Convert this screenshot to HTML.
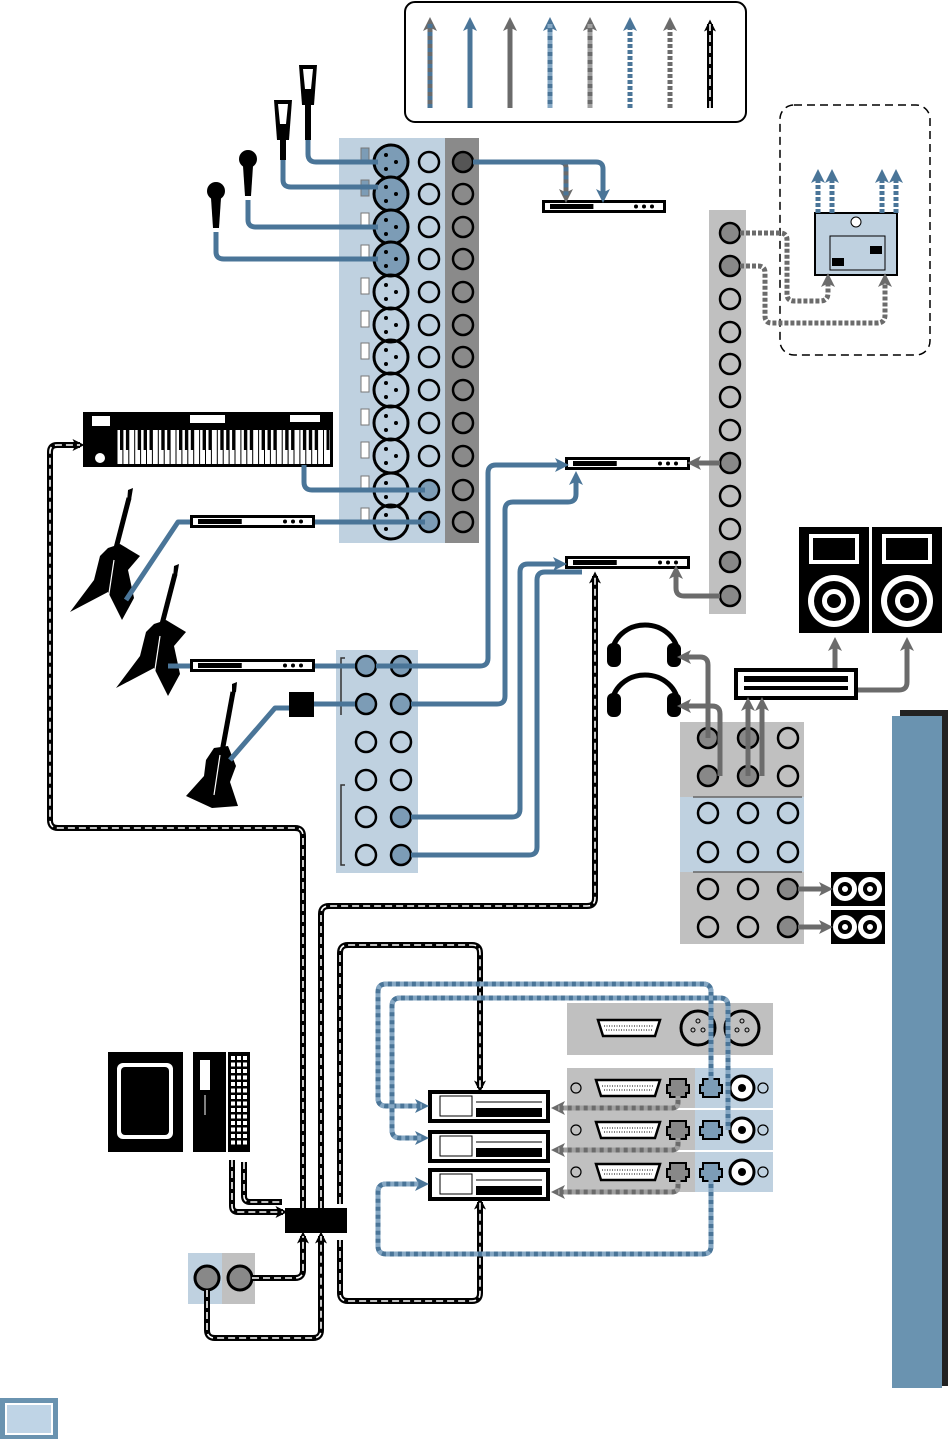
<!DOCTYPE html>
<html><head><meta charset="utf-8"><style>html,body{margin:0;padding:0;background:#fff}svg{display:block}</style></head>
<body>
<svg id="s" width="952" height="1439" viewBox="0 0 952 1439" xmlns="http://www.w3.org/2000/svg">
<defs>
<marker id="ab" markerWidth="14" markerHeight="14" viewBox="0 0 4 4" refX="2" refY="2" orient="auto" markerUnits="userSpaceOnUse"><path d="M0,0 L4,2 L0,4 L1,2z" fill="#4a7598"/></marker>
<marker id="ag" markerWidth="14" markerHeight="14" viewBox="0 0 4 4" refX="2" refY="2" orient="auto" markerUnits="userSpaceOnUse"><path d="M0,0 L4,2 L0,4 L1,2z" fill="#6b6b6b"/></marker>
<marker id="ak" markerWidth="12" markerHeight="12" viewBox="0 0 4 4" refX="2.5" refY="2" orient="auto" markerUnits="userSpaceOnUse"><path d="M0,0 L4,2 L0,4 L1,2z" fill="#000"/></marker>
</defs>
<rect x="405" y="2" width="341" height="120" rx="10" fill="#fff" stroke="#000" stroke-width="2"/>
<rect x="339" y="138" width="106" height="405" fill="#bfd1e0"/>
<rect x="445" y="138" width="34" height="405" fill="#8a8a8a"/>
<rect x="709" y="210" width="37" height="404" fill="#c0c0c0"/>
<rect x="336" y="650" width="82" height="223" fill="#bfd1e0"/>
<rect x="680" y="722" width="124" height="75" fill="#c0c0c0"/>
<rect x="680" y="797" width="124" height="75" fill="#bfd1e0"/>
<rect x="680" y="872" width="124" height="72" fill="#c0c0c0"/>
<line x1="693" y1="797" x2="802" y2="797" stroke="#666" stroke-width="1.5"/>
<line x1="693" y1="872" x2="802" y2="872" stroke="#666" stroke-width="1.5"/>
<rect x="780" y="105" width="150" height="250" rx="14" fill="none" stroke="#000" stroke-width="1.5" stroke-dasharray="8,5"/>
<rect x="900" y="710" width="48" height="676" fill="#222"/>
<rect x="892" y="716" width="50" height="672" fill="#6a93b0"/>
<rect x="0" y="1398" width="58" height="41" fill="#6a93b0"/>
<rect x="6" y="1404" width="46" height="30" fill="#bfd4e6" stroke="#fff" stroke-width="2"/>
<rect x="567" y="1003" width="206" height="52" fill="#c0c0c0"/>
<rect x="567" y="1068" width="128" height="40" fill="#c0c0c0"/><rect x="695" y="1068" width="78" height="40" fill="#bfd1e0"/>
<rect x="567" y="1110" width="128" height="40" fill="#c0c0c0"/><rect x="695" y="1110" width="78" height="40" fill="#bfd1e0"/>
<rect x="567" y="1152" width="128" height="40" fill="#c0c0c0"/><rect x="695" y="1152" width="78" height="40" fill="#bfd1e0"/>
<rect x="188" y="1253" width="34" height="51" fill="#bfd1e0"/><rect x="222" y="1253" width="33" height="51" fill="#c0c0c0"/>
<g id="g"></g>
</svg>
<script>
var g=document.getElementById('g');var NS='http://www.w3.org/2000/svg';
function el(t,a){var e=document.createElementNS(NS,t);for(var k in a)e.setAttribute(k,a[k]);g.appendChild(e);return e;}
var B='#4a7598',G='#6b6b6b',LB='#86a8c4',LG='#a0a0a0';
function line(d,type,arrow){
 var w=5;
 var base={d:d,fill:'none','stroke-width':w,'stroke-linejoin':'round','stroke-linecap':'butt'};
 function p(extra){var o=Object.assign({},base,extra);return el('path',o);}
 var mk=arrow?'url(#a'+arrow+')':null;
 if(type=='B'){var o={stroke:B};if(mk)o['marker-end']=mk;p(o);}
 else if(type=='G'){var o={stroke:G};if(mk)o['marker-end']=mk;p(o);}
 else if(type=='GB'){var o={stroke:G};if(mk)o['marker-end']=mk;p(o);p({stroke:B,'stroke-dasharray':'4,4'});}
 else if(type=='BL'){var o={stroke:B};if(mk)o['marker-end']=mk;p(o);p({stroke:LB,'stroke-dasharray':'4,4'});}
 else if(type=='GL'){var o={stroke:G};if(mk)o['marker-end']=mk;p(o);p({stroke:LG,'stroke-dasharray':'4,4'});}
 else if(type=='BD'){var o={stroke:B,'stroke-dasharray':'4,2'};if(mk)o['marker-end']=mk;p(o);}
 else if(type=='GD'){var o={stroke:G,'stroke-dasharray':'4,2'};if(mk)o['marker-end']=mk;p(o);}
 else if(type=='K'){var o={stroke:'#000','stroke-width':6};if(mk)o['marker-end']=mk;p(o);p({stroke:'#fff','stroke-width':1.6,'stroke-dasharray':'7,4'});}
}
var lt=['GB','B','G','BL','GL','BD','GD','K'],la=['g','b','g','b','g','b','g','k'];
for(var i=0;i<8;i++){var x=430+i*40;line('M'+x+',108 V24',lt[i],la[i]);}
var rows=[162,194,227,259,292,325,357,390,423,456,490,522];
rows.forEach(function(y,i){
 el('rect',{x:361,y:y-14,width:8,height:16,fill:i<2?'#7c9cb6':'#fff',stroke:'#777','stroke-width':1});
 el('circle',{cx:391,cy:y,r:17,fill:i<4?'#7c9cb6':'none',stroke:'#000','stroke-width':3});
 [[386,y-7],[396,y],[386,y+7]].forEach(function(p){el('circle',{cx:p[0],cy:p[1],r:2,fill:'#000'})});
 el('circle',{cx:429,cy:y,r:10,fill:i>=10?'#7c9cb6':'none',stroke:'#000','stroke-width':2.5});
 el('circle',{cx:463,cy:y,r:10,fill:i==0?'#555':'none',stroke:'#000','stroke-width':2.5});
});
[233,266,299,332,364,397,430,463,496,529,562,596].forEach(function(y,i){
 el('circle',{cx:730,cy:y,r:10,fill:(i<2||i==7||i==10||i==11)?'#888':'none',stroke:'#000','stroke-width':2.5});});
[666,704,742,780,817,855].forEach(function(y,i){
 el('circle',{cx:366,cy:y,r:10,fill:i<2?'#7c9cb6':'none',stroke:'#000','stroke-width':2.5});
 el('circle',{cx:401,cy:y,r:10,fill:(i<2||i>3)?'#7c9cb6':'none',stroke:'#000','stroke-width':2.5});});
el('path',{d:'M345,658 h-4 v57 M345,785 h-4 v80 h4',fill:'none',stroke:'#333','stroke-width':1.5});
[738,776,813,852,889,927].forEach(function(y,r){[708,748,788].forEach(function(x,c){
 var f='none';if(r<2&&c<2)f='#888';if(r>=4&&c==2)f='#888';
 el('circle',{cx:x,cy:y,r:10,fill:f,stroke:'#000','stroke-width':2.5});});});
function rack(x,y,w,h){el('rect',{x:x,y:y,width:w,height:h,fill:'#000'});el('rect',{x:x+3,y:y+3,width:w-6,height:h-6,fill:'#fff'});el('rect',{x:x+8,y:y+4,width:w*0.35,height:h-8,fill:'#000'});
 for(var i=0;i<3;i++)el('circle',{cx:x+w-30+i*8,cy:y+h/2,r:2,fill:'#000'});}
rack(542,200,124,13);rack(565,457,125,13);rack(565,556,125,13);rack(190,515,125,13);rack(190,659,125,13);
[1090,1130,1168].forEach(function(y){el('rect',{x:428,y:y,width:122,height:33,fill:'#000'});el('rect',{x:432,y:y+4,width:114,height:25,fill:'#fff'});
 el('rect',{x:440,y:y+6,width:32,height:20,fill:'#fff',stroke:'#000'});el('rect',{x:476,y:y+18,width:66,height:9,fill:'#000'});el('line',{x1:476,y1:y+12,x2:542,y2:y+12,stroke:'#000'});});
el('rect',{x:734,y:668,width:124,height:32,fill:'#000'});el('rect',{x:738,y:672,width:116,height:24,fill:'#fff'});
el('rect',{x:744,y:676,width:104,height:6,fill:'#000'});el('rect',{x:744,y:686,width:104,height:4,fill:'#000'});
[799,872].forEach(function(x){el('rect',{x:x,y:527,width:70,height:106,fill:'#000'});el('rect',{x:x+10,y:534,width:50,height:30,fill:'#fff'});el('rect',{x:x+14,y:538,width:42,height:22,fill:'#000'});
 el('circle',{cx:x+35,cy:601,r:26,fill:'#fff'});el('circle',{cx:x+35,cy:601,r:20,fill:'#000'});el('circle',{cx:x+35,cy:601,r:12,fill:'#fff'});el('circle',{cx:x+35,cy:601,r:7,fill:'#000'});});
[872,910].forEach(function(y){el('rect',{x:831,y:y,width:54,height:34,fill:'#000'});[845,870].forEach(function(x){el('circle',{cx:x,cy:y+17,r:12,fill:'#fff'});el('circle',{cx:x,cy:y+17,r:7,fill:'#000'});el('circle',{cx:x,cy:y+17,r:3,fill:'#fff'});});});
[655,705].forEach(function(y){el('path',{d:'M612,'+y+' a33,30 0 0 1 66,0',fill:'none',stroke:'#000','stroke-width':5});
 el('rect',{x:607,y:y-12,width:14,height:24,rx:6,fill:'#000'});el('rect',{x:667,y:y-12,width:14,height:24,rx:6,fill:'#000'});});
el('rect',{x:815,y:213,width:82,height:62,fill:'#bfd1e0',stroke:'#000','stroke-width':2});
el('rect',{x:830,y:236,width:55,height:34,fill:'none',stroke:'#000'});el('rect',{x:832,y:258,width:12,height:8,fill:'#000'});el('rect',{x:870,y:246,width:12,height:8,fill:'#000'});
el('circle',{cx:856,cy:222,r:5,fill:'#fff',stroke:'#000'});
[818,832,882,896].forEach(function(x){line('M'+x+',213 V176','BD','b');});
el('rect',{x:83,y:412,width:250,height:55,fill:'#000'});el('rect',{x:117,y:430,width:213,height:34,fill:'#fff'});
for(var i=0;i<36;i++)el('line',{x1:117+i*5.9,y1:430,x2:117+i*5.9,y2:464,stroke:'#000','stroke-width':1});
for(var i=0;i<36;i++){if([2,6,9,13,16,20,23,27,30,34].indexOf(i)>=0)continue;el('rect',{x:120+i*5.9,y:430,width:3,height:20,fill:'#000'});}
el('circle',{cx:100,cy:458,r:5,fill:'#fff'});el('rect',{x:190,y:415,width:35,height:8,fill:'#fff'});
el('rect',{x:92,y:416,width:18,height:10,fill:'#fff'});el('rect',{x:290,y:415,width:30,height:7,fill:'#fff'});
// guitars (explorer style, headstock up-right)
function gtr(dx,dy){
 el('path',{d:'M128,490 l5,-2 l-2,12 l-4,3 z',fill:'#000',transform:'translate('+dx+','+dy+')'});
 el('line',{x1:129,y1:498,x2:114,y2:556,stroke:'#000','stroke-width':5,transform:'translate('+dx+','+dy+')'});
 el('path',{d:'M108,548 L120,544 L140,556 L128,570 L134,598 L122,620 L108,592 L70,612 L94,580 L100,556 Z',fill:'#000',transform:'translate('+dx+','+dy+')'});
 el('line',{x1:114,y1:560,x2:108,y2:600,stroke:'#fff','stroke-width':1.2,transform:'translate('+dx+','+dy+')'});
}
gtr(0,0);gtr(46,76);
el('path',{d:'M232,684 l5,-2 l-1,10 l-4,2 z',fill:'#000'});
el('line',{x1:233,y1:692,x2:222,y2:752,stroke:'#000','stroke-width':5});
el('path',{d:'M214,748 L228,746 L236,766 L230,782 L238,806 L212,808 L186,796 L204,776 L206,760 Z',fill:'#000'});
el('line',{x1:220,y1:755,x2:214,y2:795,stroke:'#fff','stroke-width':1.2});
el('rect',{x:289,y:692,width:25,height:25,fill:'#000'});
[[308,65,140],[283,100,160],[248,150,210],[216,182,238]].forEach(function(m){var x=m[0];
 if(m[1]<120){el('path',{d:'M'+(x-9)+','+m[1]+' h18 l-3,40 h-12z',fill:'#000'});el('path',{d:'M'+(x-5)+','+(m[1]+4)+' h10 l-2,20 h-6z',fill:'#fff'});el('rect',{x:x-3,y:m[1]+40,width:6,height:m[2]-m[1]-40,fill:'#000'});}
 else{el('circle',{cx:x,cy:m[1]+9,r:9,fill:'#000'});el('path',{d:'M'+(x-5)+','+(m[1]+16)+' h10 l-2,30 h-6z',fill:'#000'});}});
el('rect',{x:108,y:1052,width:75,height:100,fill:'#000'});el('rect',{x:117,y:1063,width:56,height:76,rx:6,fill:'#fff'});el('rect',{x:121,y:1067,width:48,height:68,rx:4,fill:'#000'});
el('rect',{x:193,y:1052,width:33,height:100,fill:'#000'});el('rect',{x:200,y:1060,width:10,height:30,fill:'#fff'});el('line',{x1:205,y1:1095,x2:205,y2:1115,stroke:'#fff'});
el('rect',{x:228,y:1052,width:22,height:100,fill:'#000'});
for(var r=0;r<14;r++)for(var c=0;c<3;c++)el('rect',{x:231+c*6,y:1056+r*6.5,width:4,height:4,fill:'#fff'});
el('rect',{x:285,y:1208,width:62,height:25,fill:'#000'});
[207,240].forEach(function(x){el('circle',{cx:x,cy:1278,r:12,fill:'#888',stroke:'#000','stroke-width':3});});
function db(x,y,w){el('path',{d:'M'+x+','+(y-8)+' h'+w+' l-5,16 h-'+(w-10)+'z',fill:'#fff',stroke:'#000','stroke-width':2.5});el('line',{x1:x+6,y1:y-2,x2:x+w-6,y2:y-2,stroke:'#000','stroke-dasharray':'1,1.5'});el('line',{x1:x+8,y1:y+2,x2:x+w-8,y2:y+2,stroke:'#000','stroke-dasharray':'1,1.5'});}
db(598,1028,62);
[698,742].forEach(function(x){el('circle',{cx:x,cy:1028,r:17,fill:'none',stroke:'#000','stroke-width':3});[[x-5,1030],[x+5,1030],[x,1021]].forEach(function(p){el('circle',{cx:p[0],cy:p[1],r:2,fill:'none',stroke:'#000'})});});
[1088,1130,1172].forEach(function(y){db(596,y,64);
 el('circle',{cx:576,cy:y,r:5,fill:'none',stroke:'#000','stroke-width':1.2});el('circle',{cx:763,cy:y,r:5,fill:'none',stroke:'#000','stroke-width':1.2});
 el('path',{d:'M670,'+(y-9)+' h16 v6 h3 v8 h-3 v4 h-16 v-4 h-3 v-8 h3z',fill:'#888',stroke:'#000','stroke-width':2});
 el('path',{d:'M703,'+(y-9)+' h16 v6 h3 v8 h-3 v4 h-16 v-4 h-3 v-8 h3z',fill:'#7c9cb6',stroke:'#000','stroke-width':2});
 el('circle',{cx:742,cy:y,r:12,fill:'#fff',stroke:'#000','stroke-width':3});el('circle',{cx:742,cy:y,r:4,fill:'#000'});});
line('M308,140 V154 q0,8 8,8 H378','B');
line('M283,160 V180 q0,7 8,7 H378','B');
line('M248,200 V220 q0,7 8,7 H378','B');
line('M216,232 V252 q0,7 8,7 H378','B');
line('M304,465 V482 q0,8 8,8 H425','B');
line('M126,600 L178,522 H190','B');line('M315,522 H425','B');
line('M168,666 H190','B');line('M315,666 H355','B');
line('M230,760 L275,708 H289','B');line('M314,704 H355','B');
line('M376,666 H480 q8,0 8,-8 V473 q0,-8 8,-8 H562','B','b');
line('M411,704 H497 q8,0 8,-8 V510 q0,-8 8,-8 H568 q8,0 8,-8 V478','B','b');
line('M411,817 H512 q8,0 8,-8 V572 q0,-8 8,-8 H560','B','b');
line('M411,855 H529 q8,0 8,-8 V580 q0,-8 8,-8 H582','B');
line('M473,162 H560 q6,0 6,6 V196','GB','g');
line('M473,162 H596 q7,0 7,7 V196','B','b');
line('M720,463 H694','G','g');
line('M720,596 H684 q-8,0 -8,-8 V572','G','g');
line('M740,233 H780 q7,0 7,7 V294 q0,7 7,7 H820 q8,0 8,-8 V280','GD','g');
line('M740,266 H758 q7,0 7,7 V316 q0,7 7,7 H877 q8,0 8,-8 V280','GD','g');
line('M835,668 V644','G','g');line('M858,690 H899 q8,0 8,-8 V644','G','g');
line('M708,738 V665 q0,-8 -8,-8 H684','G','g');
line('M720,776 V714 q0,-8 -8,-8 H684','G','g');
line('M748,776 V704','G','g');line('M762,776 V704','G','g');
line('M798,889 H826','G','g');line('M798,927 H826','G','g');
line('M303,1208 V836 q0,-8 -8,-8 H58 q-8,0 -8,-8 V452 q0,-7 7,-7 H80','K','k');
line('M321,1208 V914 q0,-8 8,-8 H587 q8,0 8,-8 V576','K','k');
line('M340,1204 V953 q0,-8 8,-8 H472 q8,0 8,8 V1088','K','k');
line('M340,1240 V1293 q0,8 8,8 H472 q8,0 8,-8 V1202','K','k');
line('M232,1160 V1206 q0,6 6,6 H283','K','k');
line('M244,1162 V1196 q0,6 6,6 H282','K');
line('M207,1290 V1330 q0,8 8,8 H313 q8,0 8,-8 V1236','K','k');
line('M252,1278 H295 q8,0 8,-8 V1236','K','k');
line('M711,1080 V992 q0,-8 -8,-8 H386 q-8,0 -8,8 V1098 q0,8 8,8 H422','BL','b');
line('M728,1130 V1006 q0,-8 -8,-8 H400 q-8,0 -8,8 V1130 q0,8 8,8 H422','BL','b');
line('M711,1180 V1246 q0,8 -8,8 H386 q-8,0 -8,-8 V1192 q0,-8 8,-8 H422','BL','b');
[1088,1130,1172].forEach(function(y){line('M678,'+(y+8)+' V'+(y+14)+' q0,6 -6,6 H558','GL','g');});
</script>
</body></html>
